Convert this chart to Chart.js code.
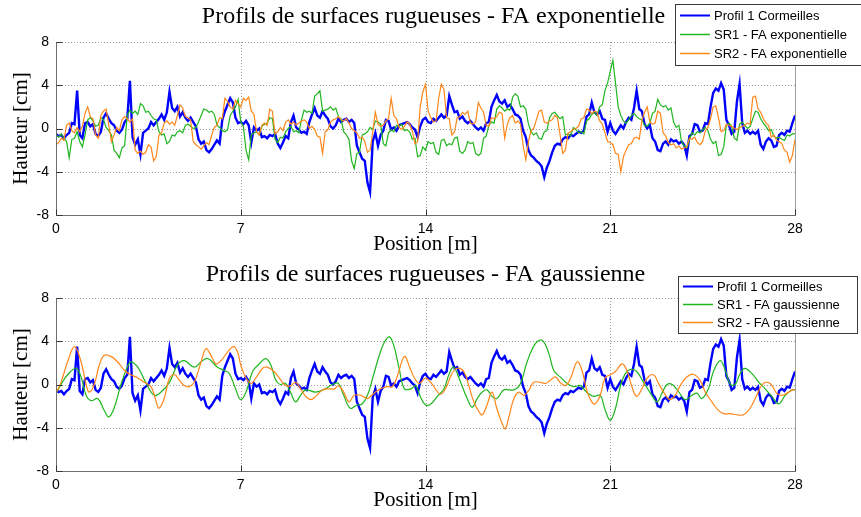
<!DOCTYPE html>
<html>
<head>
<meta charset="utf-8">
<script src="https://cdn.jsdelivr.net/npm/chart.js@4.4.1/dist/chart.umd.min.js"></script>
<style>
  html, body { margin: 0; padding: 0; background: #fff; }
  #wrap { position: relative; width: 861px; height: 517px; overflow: hidden; background: #fff; }
  #wrap canvas { position: absolute; left: 0; }
</style>
</head>
<body>
<div id="wrap">
  <canvas id="chartExp" width="861" height="258" style="top:0px"></canvas>
  <canvas id="chartGauss" width="861" height="259" style="top:258px"></canvas>
</div>
<script>
// Sampling step of the rough profiles (m)
const STEP = 0.1;

// Measured profile, Cormeilles (cm), one value every STEP metres from 0 to 28 m
const profil1 = [
  -0.5,-0.7,-0.6,-0.9,-0.6,-0.4,0.5,0.4,3.5,-0.6,
  -0.9,0.5,0.6,0.2,0.4,-0.5,-0.7,-0.3,1.0,1.4,
  0.9,0.5,0.3,-0.2,-0.4,-0.1,0.6,0.9,4.4,-0.8,
  -1.5,-1.0,-2.4,-0.4,-0.2,0.0,0.6,0.3,0.6,0.9,
  1.3,0.8,1.5,3.4,1.9,1.6,2.0,1.1,1.5,1.0,
  0.7,1.0,0.6,0.2,-1.0,-1.4,-1.2,-2.0,-2.2,-1.9,
  -1.5,-1.1,-1.4,0.8,1.6,2.2,2.8,2.4,1.0,0.5,
  0.6,0.4,0.7,0.3,-1.3,0.1,-0.2,0.0,-0.8,-0.7,
  -0.9,-0.6,-0.7,-0.5,-1.4,-1.8,-1.3,-0.7,-0.9,0.6,
  1.2,0.1,-0.1,-0.4,-0.3,-0.5,0.6,1.3,1.9,1.2,
  1.0,1.6,1.2,0.9,0.2,0.0,0.3,0.9,0.6,0.8,
  0.9,0.6,0.8,0.5,-1.6,-2.2,-2.8,-3.0,-5.0,-5.9,
  -1.2,-0.4,-1.6,-0.6,-0.2,0.8,0.7,-0.1,0.1,-0.2,
  0.3,0.4,0.5,0.6,0.4,0.1,-0.1,-0.8,0.2,0.8,
  1.0,0.6,0.5,0.9,0.7,1.0,1.3,1.0,1.2,3.0,
  2.2,1.5,1.6,0.9,1.1,0.7,0.5,0.7,0.4,0.1,
  -0.1,0.1,-0.2,0.5,0.6,2.0,2.6,3.1,2.5,2.3,
  2.6,2.0,2.2,1.8,1.3,1.2,0.9,-0.2,-0.8,-2.0,
  -2.5,-2.7,-3.0,-3.2,-3.5,-4.5,-3.6,-3.0,-2.2,-1.6,
  -1.4,-1.5,-1.0,-0.8,-0.9,-0.6,-0.7,-0.5,-0.3,-0.4,
  -0.2,1.1,1.3,2.4,1.5,1.3,1.6,0.9,0.8,-0.3,
  0.5,-0.2,-0.5,-0.1,0.3,0.0,0.6,1.0,0.8,1.9,
  3.5,1.8,1.6,0.4,0.0,0.3,-0.9,-1.2,-2.0,-2.1,
  -1.4,-1.2,-1.5,-1.0,-1.2,-1.1,-1.4,-1.2,-1.5,-2.5,
  -0.7,-0.5,0.4,0.3,-0.3,-0.2,0.5,0.4,2.0,3.3,
  3.7,3.5,4.2,3.6,0.8,0.3,-0.5,-0.3,2.5,4.1,
  0.5,-0.4,-0.2,-0.5,-0.3,-0.5,-0.2,-1.5,-1.9,-1.2,
  -0.9,-1.1,-1.7,-1.6,-0.6,-0.4,-0.6,-0.2,-0.3,0.5,
  1.2
];

// Synthetic surface SR1, exponential autocorrelation (cm)
const sr1Exp = [
  -0.6,-0.8,-0.5,-0.9,-1.2,-2.7,-1.0,-0.9,-0.3,-1.2,
  -1.7,-0.6,0.8,1.0,0.7,0.2,0.3,1.0,0.8,0.1,
  -0.2,-0.6,-2.0,-2.3,-2.7,-1.8,-1.6,1.2,1.7,1.4,
  1.6,1.3,2.3,2.1,1.5,1.6,1.2,0.9,0.8,-0.3,
  -0.6,-0.5,-1.4,-1.2,-0.6,-0.7,-0.3,-0.2,-0.4,0.3,
  0.4,0.2,0.0,0.1,0.6,1.2,1.8,1.7,1.5,1.6,
  1.3,0.3,0.1,-0.2,-0.3,-0.1,1.2,1.6,2.0,2.7,
  0.6,0.2,-2.0,-2.9,-0.6,-0.4,-0.3,-0.6,0.2,0.4,
  0.5,1.0,0.9,-1.0,-1.3,-0.8,-0.9,-0.3,0.0,0.2,
  -0.3,-0.2,-0.4,0.8,1.7,1.5,1.6,1.4,3.0,3.2,
  3.5,1.6,1.7,1.8,2.0,1.7,1.9,1.1,0.9,-0.3,
  -0.6,-1.0,-3.0,-3.7,-2.3,-2.2,-0.6,-0.5,-0.3,0.1,
  -0.1,0.7,0.6,0.4,-1.4,-1.6,-0.4,-0.1,-0.3,0.3,
  0.2,0.4,-0.2,-0.1,-0.3,-1.0,-0.9,-2.6,-2.5,-1.7,
  -2.0,-1.2,-1.4,-1.3,-2.2,-2.4,-1.1,-1.0,-1.6,-1.4,
  -1.5,-0.9,-0.8,-2.1,-2.3,-2.0,-1.2,-1.4,-1.3,-2.3,
  -2.5,-2.3,-0.9,-0.7,0.3,0.6,0.5,1.8,2.1,1.9,
  1.6,1.8,1.7,2.9,3.2,3.0,2.0,2.1,1.8,0.4,
  -0.3,-0.6,-0.4,-0.9,-1.0,-0.3,-0.2,1.0,1.4,1.5,
  1.2,0.9,1.1,-0.6,-0.5,-0.7,0.1,-0.1,-0.4,-0.3,
  -0.5,0.7,0.9,1.3,1.5,1.2,2.0,2.2,3.5,4.2,
  5.3,6.3,4.2,2.0,1.2,0.7,0.5,0.8,1.2,1.4,
  1.1,0.9,0.8,0.3,0.2,0.5,1.4,1.6,2.7,2.2,
  2.0,2.1,1.7,1.9,0.6,0.1,0.3,-1.2,-1.6,-1.8,
  -1.0,-0.4,-0.6,-0.3,-0.4,-0.1,0.1,-0.2,-1.0,-1.4,
  -1.2,-2.5,-2.4,-1.7,0.3,0.5,0.2,-0.9,-1.1,0.4,
  0.6,0.3,0.0,0.2,0.9,1.6,1.5,0.9,0.5,0.2,
  -0.2,-0.1,-0.7,-0.9,-0.8,-1.0,-1.1,-0.6,-0.7,-0.5,
  -0.5
];

// Synthetic surface SR2, exponential autocorrelation (cm)
const sr2Exp = [
  -1.5,-1.3,-0.9,-1.1,0.3,0.5,-0.2,-0.4,0.1,-0.3,
  0.2,1.4,2.0,1.1,0.9,-0.6,-0.9,1.2,1.6,1.8,
  0.3,-1.2,-0.6,0.1,-0.2,0.8,1.1,0.9,0.6,0.9,
  -2.0,-2.3,-2.1,-2.4,-2.2,-1.5,-1.7,-3.0,-2.6,-0.6,
  -0.4,0.5,0.7,0.4,0.6,0.3,1.2,2.2,1.9,1.1,
  1.0,0.8,-1.2,-1.5,-1.7,-1.9,-1.6,-1.3,-1.5,-0.6,
  0.1,0.3,1.0,0.9,2.8,2.5,2.0,1.8,2.6,2.3,
  2.0,2.8,2.6,2.9,1.6,1.3,-0.3,-0.6,0.3,0.5,
  0.3,1.8,1.6,-0.5,-0.3,0.1,-0.2,0.6,0.8,0.4,
  0.6,0.3,0.5,0.7,0.8,0.6,0.0,0.2,-0.1,-0.7,
  -0.8,-2.3,-0.3,-0.1,0.6,0.8,0.9,1.1,0.8,0.7,
  0.9,0.5,0.0,-0.2,-0.4,-0.9,-0.8,-1.2,-2.2,-2.0,
  -0.3,1.5,0.4,0.2,0.3,0.7,0.9,2.8,1.2,0.9,
  0.1,-0.1,0.2,0.6,0.4,-0.2,-1.4,-1.2,2.0,3.4,
  4.1,1.6,1.0,0.6,0.7,2.8,4.1,3.6,1.0,0.9,
  -0.6,-0.3,1.0,1.1,1.5,1.3,1.6,0.5,0.4,0.6,
  2.4,1.9,1.5,0.3,0.2,1.0,0.9,1.1,1.5,1.4,
  -0.9,0.4,1.0,1.2,0.5,0.7,0.4,-1.6,-2.9,-1.2,
  -0.2,0.0,0.8,1.6,1.7,0.6,0.5,0.7,0.8,1.2,
  1.0,-0.6,-2.3,-2.0,-0.4,-0.3,-0.1,0.0,0.2,0.9,
  1.0,1.8,1.7,1.4,1.6,1.5,0.7,0.4,-0.4,-1.2,
  -1.3,-1.5,-2.3,-2.4,-4.0,-2.6,-2.0,-1.5,-1.4,-0.9,
  -0.8,-1.0,0.8,1.5,2.0,0.6,0.4,0.5,1.6,1.4,
  -0.4,-0.7,-1.3,-1.5,-1.4,-1.8,-1.6,-1.9,-1.8,-1.7,
  -0.9,-1.0,-0.8,-1.3,-1.5,-1.2,-0.2,0.1,0.9,2.0,
  2.1,1.0,-0.3,-0.2,0.4,0.3,0.2,0.0,-0.1,0.1,
  0.2,0.3,0.5,0.4,2.9,3.0,1.8,1.5,0.9,0.5,
  0.3,-0.8,-0.6,-1.1,-1.2,-1.4,-2.0,-2.2,-3.1,-2.5,
  -1.0
];

// Synthetic surface SR1, gaussian autocorrelation: positions (m) and heights (cm)
const sr1GaussX = [
  0,0.19,0.44,0.76,0.95,1.14,1.33,1.58,1.83,2.0,2.2,2.46,2.7,2.84,3.1,3.4,3.72,3.98,4.3,4.6,4.86,5.24,5.5,5.75,6.12,6.38,6.57,6.82,
  7.0,7.2,7.45,7.7,7.95,8.14,8.33,8.5,8.7,8.9,9.08,9.27,9.46,9.84,10.2,10.47,10.7,10.9,11.15,11.4,11.6,11.8,12.0,12.25,12.44,12.63,12.8,13.0,13.2,13.45,13.63,13.8,
  14.0,14.2,14.45,14.7,14.9,15.07,15.33,15.58,15.77,15.96,16.15,16.33,16.52,16.7,16.97,17.35,17.6,17.85,18.17,18.42,18.67,18.86,19.1,19.37,19.62,19.87,20.1,20.37,20.62,20.8,
  21.0,21.2,21.4,21.57,21.76,22.0,22.26,22.5,22.77,22.96,23.15,23.35,23.6,23.84,24.1,24.28,24.47,24.72,24.91,25.17,25.36,25.55,25.73,25.92,26.1,26.37,26.63,26.87,27.12,27.38,27.63,27.88,28.0
];
const sr1GaussY = [
  -0.8,0,0.9,1.5,0.7,-1.0,-1.5,-1.3,-2.4,-3.0,-2.2,0,1.6,2.1,1.6,0.2,-1.0,-0.7,0.2,1.8,2.2,1.6,2.1,2.4,1.6,1.3,1.0,-0.5,
  -1.4,-0.7,1.2,1.9,2.4,1.8,0.4,0,0.1,-0.8,-1.6,-1.0,-0.5,-0.7,-0.4,0,0.1,-1.0,-2.2,-1.9,-1.8,-1.0,0.6,2.7,3.9,4.4,3.6,1.5,-0.4,-0.4,-0.1,-1.1,
  -1.9,-1.8,-1.1,-0.4,1.0,1.6,0.2,-1.3,-2.1,-1.3,-0.7,-0.5,-1.1,-1.3,-0.5,-0.5,0.1,2.1,3.8,4.1,2.9,1.3,0.7,0.1,-0.2,-0.1,-0.7,-1.1,-1.0,-2.3,
  -3.3,-2.2,0,1.0,1.4,1.2,0.2,-0.7,-1.6,-0.8,0,0,-0.7,-1.4,-1.0,-0.8,-1.3,-0.4,1.2,2.2,1.3,0,0,1.0,1.5,1.0,0.2,-0.4,-1.1,-1.8,-1.0,-0.5,-0.5
];

// Synthetic surface SR2, gaussian autocorrelation: positions (m) and heights (cm)
const sr2GaussX = [
  0,0.19,0.44,0.7,0.95,1.14,1.26,1.45,1.64,1.83,2.08,2.33,2.6,2.84,3.1,3.35,3.6,3.8,3.9,4.1,4.3,4.5,4.67,4.86,5.05,5.24,5.5,5.68,5.87,6.06,6.25,6.5,6.73,6.88,
  7.0,7.2,7.4,7.57,7.83,8.0,8.26,8.52,8.7,8.9,9.08,9.27,9.46,9.65,9.84,10.1,10.35,10.55,10.7,10.9,11.1,11.3,11.55,11.8,12.05,12.3,12.55,12.75,12.95,13.2,13.4,13.58,13.77,
  14.0,14.2,14.4,14.57,14.76,15.0,15.2,15.45,15.64,15.83,16.02,16.15,16.33,16.52,16.7,16.9,17.02,17.15,17.35,17.54,17.73,17.92,18.1,18.36,18.55,18.73,18.92,19.1,19.3,19.5,19.75,19.94,20.13,20.3,20.43,20.62,20.8,
  21.0,21.2,21.45,21.63,21.82,22.0,22.2,22.4,22.64,22.83,23.1,23.27,23.46,23.65,23.9,24.15,24.4,24.6,24.85,25.1,25.3,25.55,25.8,26.05,26.3,26.55,26.8,27.06,27.3,27.5,27.7,27.9,28.0
];
const sr2GaussY = [
  -0.8,0.2,2.1,3.5,2.1,0,-0.7,0,1.8,2.7,2.6,2.1,1.3,0.9,0.6,0.2,-0.2,-1.6,-2.2,-1.3,0.6,0.9,0.4,-0.1,-0.2,0.2,2.1,3.3,2.7,1.9,2.2,3.0,3.5,3.0,
  1.8,0.6,0.1,0.6,1.5,1.6,1.2,0.4,-0.1,-0.1,0.2,-0.4,-1.1,-1.4,-1.1,-0.5,-0.4,-0.4,-0.1,-0.7,-1.6,-1.0,-1.0,-1.3,-0.8,-0.4,-0.2,-0.2,0.9,2.6,1.6,0.6,0.1,
  0.6,0.2,-0.5,-0.9,-0.4,1.0,1.5,1.2,-0.1,-1.6,-2.5,-2.8,-1.9,-0.7,-2.2,-3.6,-4.1,-3.1,-1.3,-0.7,-1.0,-0.5,0.2,0.2,0.1,0.4,0.7,0.2,-0.1,0.6,2.1,1.2,-0.7,-1.6,-1.8,-1.0,0.6,
  0.9,1.2,1.9,1.3,-0.2,-1.1,-0.4,0.6,0.9,0.1,-1.0,-1.4,-1.0,-0.1,0.7,0.95,0.4,-0.7,-1.6,-2.4,-2.7,-2.7,-2.8,-2.8,-2.2,-1.0,0.1,0.1,-0.8,-1.0,-0.8,-0.5,-0.5
];

// Axis ticks
const xTicks = [0, 7, 14, 21, 28];
const yTicks = [-8, -4, 0, 4, 8];

const BLUE = '#0000ff';
const GREEN = '#1fb51f';
const ORANGE = '#ff8619';

const sampled = arr => arr.map((v, i) => ({ x: +(i * STEP).toFixed(2), y: v }));
const paired = (xs, ys) => xs.map((x, i) => ({ x: x, y: ys[i] }));

// Grid, box, titles and legend drawn around the plot area
const framePlugin = {
  id: 'frame',
  beforeDatasetsDraw(chart) {
    const { ctx, chartArea: a, scales: { x, y } } = chart;
    ctx.save();
    ctx.strokeStyle = '#9c9c9c';
    ctx.lineWidth = 1;
    ctx.setLineDash([1, 2]);
    xTicks.slice(1, -1).forEach(v => {
      const px = Math.round(x.getPixelForValue(v)) + 0.5;
      ctx.beginPath(); ctx.moveTo(px, a.top); ctx.lineTo(px, a.bottom); ctx.stroke();
    });
    yTicks.slice(1).forEach(v => {
      const py = Math.round(y.getPixelForValue(v)) + 0.5;
      ctx.beginPath(); ctx.moveTo(a.left, py); ctx.lineTo(a.right, py); ctx.stroke();
    });
    ctx.restore();
  },
  afterDatasetsDraw(chart) {
    const { ctx, chartArea: a, scales: { x, y } } = chart;
    const L = Math.round(a.left) + 0.5, R = Math.round(a.right) + 0.5;
    const T = Math.round(a.top) + 0.5, B = Math.round(a.bottom) + 0.5;
    ctx.save();
    ctx.lineWidth = 1;
    ctx.strokeStyle = '#a0a0a0';
    ctx.beginPath(); ctx.moveTo(R, T); ctx.lineTo(R, B); ctx.stroke();
    ctx.strokeStyle = '#6e6e6e';
    ctx.beginPath(); ctx.moveTo(L, T); ctx.lineTo(L, B); ctx.lineTo(R, B); ctx.stroke();
    ctx.strokeStyle = '#333';
    xTicks.forEach(v => {
      const px = Math.round(x.getPixelForValue(v)) + 0.5;
      ctx.beginPath(); ctx.moveTo(px, B); ctx.lineTo(px, B - 6); ctx.stroke();
    });
    yTicks.forEach(v => {
      const py = Math.round(y.getPixelForValue(v)) + 0.5;
      ctx.beginPath(); ctx.moveTo(L, py); ctx.lineTo(L + 6, py); ctx.stroke();
    });
    ctx.restore();
  },
  afterDraw(chart, args, opts) {
    const { ctx, chartArea: a } = chart;
    const cx = (a.left + a.right) / 2;
    ctx.save();
    ctx.fillStyle = '#000';
    ctx.textAlign = 'center';
    ctx.textBaseline = 'middle';
    ctx.font = '24px "Liberation Serif"';
    ctx.fillText(opts.title, cx + opts.titleDx, opts.titleY);
    ctx.font = '21px "Liberation Serif"';
    ctx.fillText('Position [m]', cx, opts.xTitleY);
    ctx.save();
    ctx.translate(21, (a.top + a.bottom) / 2);
    ctx.rotate(-Math.PI / 2);
    ctx.fillText('Hauteur [cm]', 0, 0);
    ctx.restore();

    // legend box
    const b = opts.legend;
    ctx.fillStyle = '#fff';
    ctx.fillRect(b.x, b.y, b.w, b.h);
    ctx.strokeStyle = '#3c3c3c';
    ctx.lineWidth = 1;
    ctx.strokeRect(b.x + 0.5, b.y + 0.5, b.w, b.h);
    ctx.font = '13px "Liberation Sans"';
    ctx.textAlign = 'left';
    chart.data.datasets.forEach((ds, i) => {
      const ry = b.y + b.row0 + i * b.dy;
      ctx.strokeStyle = ds.borderColor;
      ctx.lineWidth = ds.borderWidth >= 2 ? 2 : 1.5;
      ctx.beginPath(); ctx.moveTo(b.x + 5, ry + 0.5); ctx.lineTo(b.x + 35, ry + 0.5); ctx.stroke();
      ctx.fillStyle = '#000';
      ctx.fillText(ds.label, b.x + 39, ry + 1);
    });
    ctx.restore();
  }
};

function makeChart(id, datasets, frame, topPad, xAxisHeight) {
  return new Chart(document.getElementById(id), {
    type: 'line',
    data: { datasets: datasets },
    options: {
      responsive: false,
      animation: false,
      devicePixelRatio: 1,
      layout: { padding: { left: 0, right: 66, top: topPad, bottom: 0 } },
      elements: { point: { radius: 0 } },
      scales: {
        x: {
          type: 'linear', min: 0, max: 28,
          afterBuildTicks: s => { s.ticks = xTicks.map(v => ({ value: v })); },
          afterFit: s => { s.height = xAxisHeight; },
          grid: { display: false, drawTicks: false }, border: { display: false },
          ticks: { color: '#000', font: { family: 'Liberation Sans', size: 14 }, padding: 6, maxRotation: 0, autoSkip: false }
        },
        y: {
          type: 'linear', min: -8, max: 8,
          afterBuildTicks: s => { s.ticks = yTicks.map(v => ({ value: v })); },
          afterFit: s => { s.width = 56; },
          grid: { display: false, drawTicks: false }, border: { display: false },
          ticks: { color: '#000', font: { family: 'Liberation Sans', size: 14 }, padding: 7 }
        }
      },
      plugins: {
        legend: { display: false },
        tooltip: { enabled: false },
        frame: frame
      }
    },
    plugins: [framePlugin]
  });
}

makeChart('chartExp', [
  { label: 'Profil 1 Cormeilles', data: sampled(profil1), borderColor: BLUE, borderWidth: 2.4, tension: 0, order: 3 },
  { label: 'SR1 - FA exponentielle', data: sampled(sr1Exp), borderColor: GREEN, borderWidth: 1.2, tension: 0, order: 2 },
  { label: 'SR2 - FA exponentielle', data: sampled(sr2Exp), borderColor: ORANGE, borderWidth: 1.2, tension: 0, order: 1 }
], {
  title: 'Profils de surfaces rugueuses - FA exponentielle',
  titleY: 17, titleDx: 8, xTitleY: 244,
  legend: { x: 675, y: 4, w: 200, h: 61, row0: 11, dy: 19 }
}, 42, 43);

makeChart('chartGauss', [
  { label: 'Profil 1 Cormeilles', data: sampled(profil1), borderColor: BLUE, borderWidth: 2.4, tension: 0, order: 3 },
  { label: 'SR1 - FA gaussienne', data: paired(sr1GaussX, sr1GaussY), borderColor: GREEN, borderWidth: 1.2, tension: 0.4, order: 2 },
  { label: 'SR2 - FA gaussienne', data: paired(sr2GaussX, sr2GaussY), borderColor: ORANGE, borderWidth: 1.2, tension: 0.4, order: 1 }
], {
  title: 'Profils de surfaces rugueuses - FA gaussienne',
  titleY: 17, titleDx: 0, xTitleY: 242,
  legend: { x: 678, y: 18, w: 179, h: 57, row0: 10, dy: 18 }
}, 40, 46);
</script>
</body>
</html>
